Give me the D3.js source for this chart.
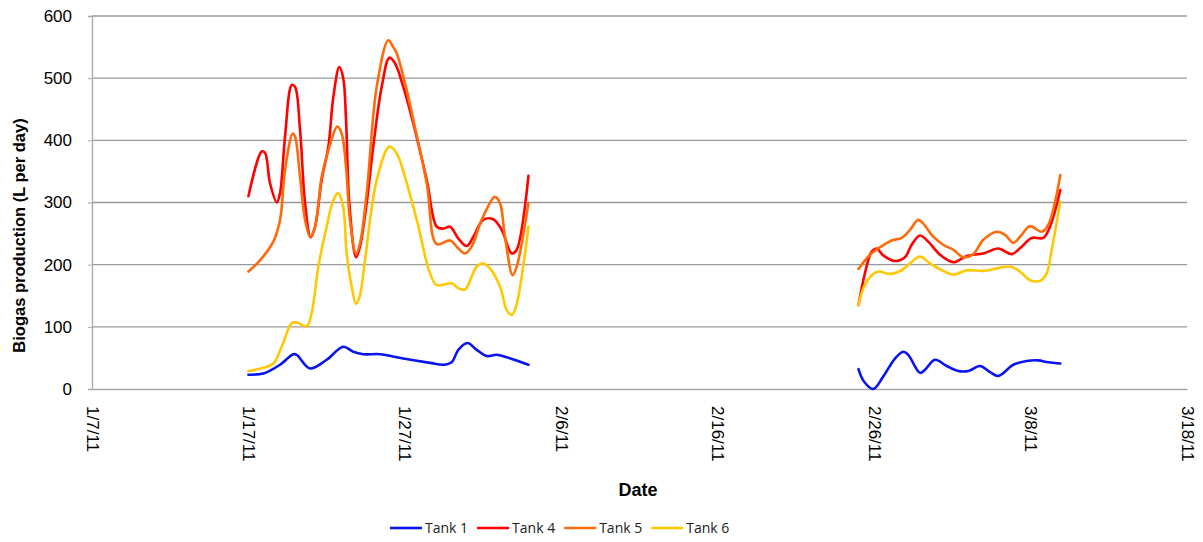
<!DOCTYPE html>
<html>
<head>
<meta charset="utf-8">
<script src="https://cdn.jsdelivr.net/npm/d3@7"></script>
<style>
  body { margin: 0; background: #fff; }
  svg { display: block; font-family: "Liberation Sans", Arial, sans-serif; }
</style>
</head>
<body>
<div id="chart"></div>
<script>
const width = 1203;
const height = 542;
const marginTop = 16;
const marginRight = 16;
const marginBottom = 153;
const marginLeft = 92;

// days are counted from 1/7/11; null marks the gap between the two runs
const startDate = new Date(2011, 0, 7);
const endDate = new Date(2011, 2, 18);
const yTicks = [0, 100, 200, 300, 400, 500, 600];
const tankNames = ["Tank 1", "Tank 4", "Tank 5", "Tank 6"];
const tankColors = ["#0a14f0", "#ff0000", "#ff6a0a", "#ffc800"];

const tank1Days = [10.0, 10.95, 12.02, 12.87, 13.09, 13.94, 15.0, 16.06, 16.7, 17.34, 18.41, 19.9, 21.61, 22.46, 22.99, 23.42, 24.0, 24.59, 25.23, 25.87, 26.51, 27.9,
  38,
  49.0, 49.35, 49.94, 50.58, 51.33, 51.86, 52.18, 52.93, 53.25, 53.89, 54.64, 55.38, 56.02, 56.77, 57.41, 57.94, 58.9, 59.75, 60.49, 61.13, 61.9];
const tank1Values = [23, 25, 39, 56, 55, 33, 47, 68, 60, 56, 56, 49, 42, 39, 43, 63, 74, 63, 53, 55, 51, 39,
  null,
  32, 12, 0, 20, 49, 60, 55, 26, 31, 47, 37, 29, 29, 37, 27, 21, 39, 45, 46, 43, 41];

const tank4Days = [10.0, 10.85, 11.06, 11.38, 11.81, 12.02, 12.34, 12.77, 12.98, 13.3, 13.62, 13.98, 14.26, 14.68, 15.11, 15.43, 15.81, 16.06, 16.24, 16.45, 16.88, 17.13, 17.56, 17.98, 18.52, 19.01, 19.37, 19.9, 20.54, 21.4, 22.04, 22.46, 22.89, 23.42, 23.95, 24.38, 25.01, 25.65, 26.19, 26.83, 27.15, 27.9,
  38,
  49.0, 49.41, 49.84, 50.16, 50.58, 51.33, 51.97, 52.4, 52.93, 53.46, 54.21, 55.06, 55.92, 56.98, 57.94, 58.79, 59.43, 60.07, 60.81, 61.24, 61.9];
const tank4Values = [310, 382, 380, 331, 300, 315, 406, 489, 486, 417, 299, 244, 261, 336, 390, 470, 518, 500, 433, 299, 212, 229, 299, 390, 486, 533, 524, 486, 427, 336, 261, 258, 261, 242, 230, 245, 272, 273, 256, 218, 224, 343,
  null,
  135, 186, 221, 226, 215, 206, 212, 232, 247, 237, 216, 204, 214, 218, 226, 217, 229, 243, 243, 261, 320];

const tank5Days = [10.0, 10.74, 11.59, 12.02, 12.34, 12.83, 12.98, 13.3, 13.62, 13.94, 14.26, 14.68, 15.11, 15.68, 15.96, 16.24, 16.49, 16.88, 17.13, 17.56, 18.2, 18.94, 19.26, 19.48, 20.01, 20.54, 21.4, 22.04, 22.89, 23.42, 23.84, 24.27, 24.91, 25.76, 26.08, 26.4, 26.89, 27.15, 27.9,
  38,
  49.0, 49.73, 50.37, 51.12, 51.76, 52.29, 52.82, 53.14, 53.78, 54.42, 55.06, 55.7, 56.34, 56.98, 57.83, 58.37, 58.9, 59.43, 59.96, 60.71, 61.13, 61.9];
const tank5Values = [189, 207, 237, 272, 352, 411, 406, 341, 272, 245, 261, 341, 384, 422, 411, 357, 272, 218, 234, 315, 486, 561, 550, 540, 492, 433, 331, 233, 239, 226, 218, 229, 272, 309, 299, 245, 183, 197, 299,
  null,
  193, 216, 228, 239, 243, 256, 272, 266, 245, 232, 224, 212, 217, 240, 253, 248, 235, 248, 262, 253, 264, 344];

const tank6Days = [10.0, 10.95, 11.59, 12.13, 12.77, 13.09, 13.73, 14.04, 14.47, 15.0, 15.43, 15.74, 16.06, 16.28, 16.6, 16.88, 17.13, 17.45, 18.2, 19.01, 19.48, 20.01, 20.76, 21.61, 22.04, 23.0, 23.42, 23.84, 24.59, 25.01, 25.44, 26.08, 26.51, 26.83, 27.1, 27.9,
  38,
  49.0, 49.31, 49.84, 50.27, 51.01, 51.76, 52.29, 52.93, 53.57, 54.32, 55.06, 55.92, 56.98, 57.83, 58.68, 59.32, 59.96, 60.6, 61.03, 61.35, 61.9];
const tank6Values = [29, 34, 41, 68, 106, 107, 101, 122, 197, 261, 304, 315, 293, 218, 165, 137, 151, 207, 336, 390, 379, 341, 272, 186, 167, 170, 162, 160, 197, 202, 194, 165, 127, 119, 132, 261,
  null,
  135, 162, 183, 189, 185, 191, 202, 213, 202, 191, 184, 191, 190, 194, 197, 189, 175, 174, 186, 224, 301];

const dayToDate = d => new Date(startDate.getTime() + d * 864e5);
const toSeries = (days, values) => days.map((d, i) => ({date: dayToDate(d), value: values[i]}));

const series = [
  toSeries(tank1Days, tank1Values),
  toSeries(tank4Days, tank4Values),
  toSeries(tank5Days, tank5Values),
  toSeries(tank6Days, tank6Values)
];

const x = d3.scaleTime()
  .domain([startDate, endDate])
  .range([marginLeft, width - marginRight]);

const y = d3.scaleLinear()
  .domain([0, 600])
  .range([height - marginBottom, marginTop]);

const xTicks = d3.range(0, 71, 10).map(d => d3.timeDay.offset(startDate, d));

const svg = d3.select("#chart").append("svg")
  .attr("width", width)
  .attr("height", height);

// gridlines
svg.append("g")
  .selectAll("line")
  .data(yTicks.filter(d => d > 0))
  .join("line")
  .attr("x1", marginLeft)
  .attr("x2", width - marginRight)
  .attr("y1", d => y(d))
  .attr("y2", d => y(d))
  .attr("stroke", "#9a9a9a")
  .attr("stroke-width", 1.3);

// y axis
const yAxis = svg.append("g")
  .attr("transform", `translate(${marginLeft},0)`)
  .call(d3.axisLeft(y).tickValues(yTicks).tickSize(4).tickPadding(16));
yAxis.select(".domain").attr("stroke", "#a8a8a8").attr("stroke-width", 1.3);
yAxis.selectAll(".tick line").attr("stroke", "#a8a8a8");
yAxis.selectAll("text")
  .attr("font-size", 17)
  .attr("font-family", "Liberation Sans, Arial, sans-serif")
  .attr("fill", "#000");

// x axis
const xAxis = svg.append("g")
  .attr("transform", `translate(0,${height - marginBottom})`)
  .call(d3.axisBottom(x).tickValues(xTicks).tickFormat(d3.timeFormat("%-m/%-d/%y")).tickSize(0));
xAxis.select(".domain").attr("stroke", "#a8a8a8").attr("stroke-width", 1.3);
xAxis.selectAll("text")
  .attr("font-size", 17)
  .attr("font-family", "Liberation Sans, Arial, sans-serif")
  .attr("fill", "#000")
  .attr("transform", "rotate(90)")
  .attr("x", 17)
  .attr("y", 0)
  .attr("dy", "0.35em")
  .attr("text-anchor", "start");

// lines
const line = d3.line()
  .defined(d => d.value != null)
  .x(d => x(d.date))
  .y(d => y(d.value))
  .curve(d3.curveCatmullRom.alpha(0.5));

svg.append("g")
  .selectAll("path")
  .data(series)
  .join("path")
  .attr("fill", "none")
  .attr("stroke", (d, i) => tankColors[i])
  .attr("stroke-width", 2.6)
  .attr("stroke-linejoin", "round")
  .attr("stroke-linecap", "round")
  .attr("d", line);

// axis titles
svg.append("text")
  .attr("transform", `translate(25,${(marginTop + height - marginBottom) / 2 + 33}) rotate(-90)`)
  .attr("text-anchor", "middle")
  .attr("font-size", 16.5)
  .attr("font-weight", "bold")
  .text("Biogas production (L per day)");

svg.append("text")
  .attr("x", 638)
  .attr("y", 496)
  .attr("text-anchor", "middle")
  .attr("font-size", 18)
  .attr("font-weight", "bold")
  .text("Date");

// legend
const legend = svg.append("g")
  .attr("transform", "translate(390,528)")
  .attr("font-family", "'Open Sans', 'Noto Sans', sans-serif")
  .attr("font-size", 14);

let lx = 0;
tankNames.forEach((name, i) => {
  legend.append("line")
    .attr("x1", lx)
    .attr("x2", lx + 32)
    .attr("stroke", tankColors[i])
    .attr("stroke-width", 2.6);
  const t = legend.append("text")
    .attr("x", lx + 35)
    .attr("dy", "0.35em")
    .attr("fill", "#222")
    .text(name);
  lx += 35 + t.node().getComputedTextLength() + 9;
});
</script>
</body>
</html>
